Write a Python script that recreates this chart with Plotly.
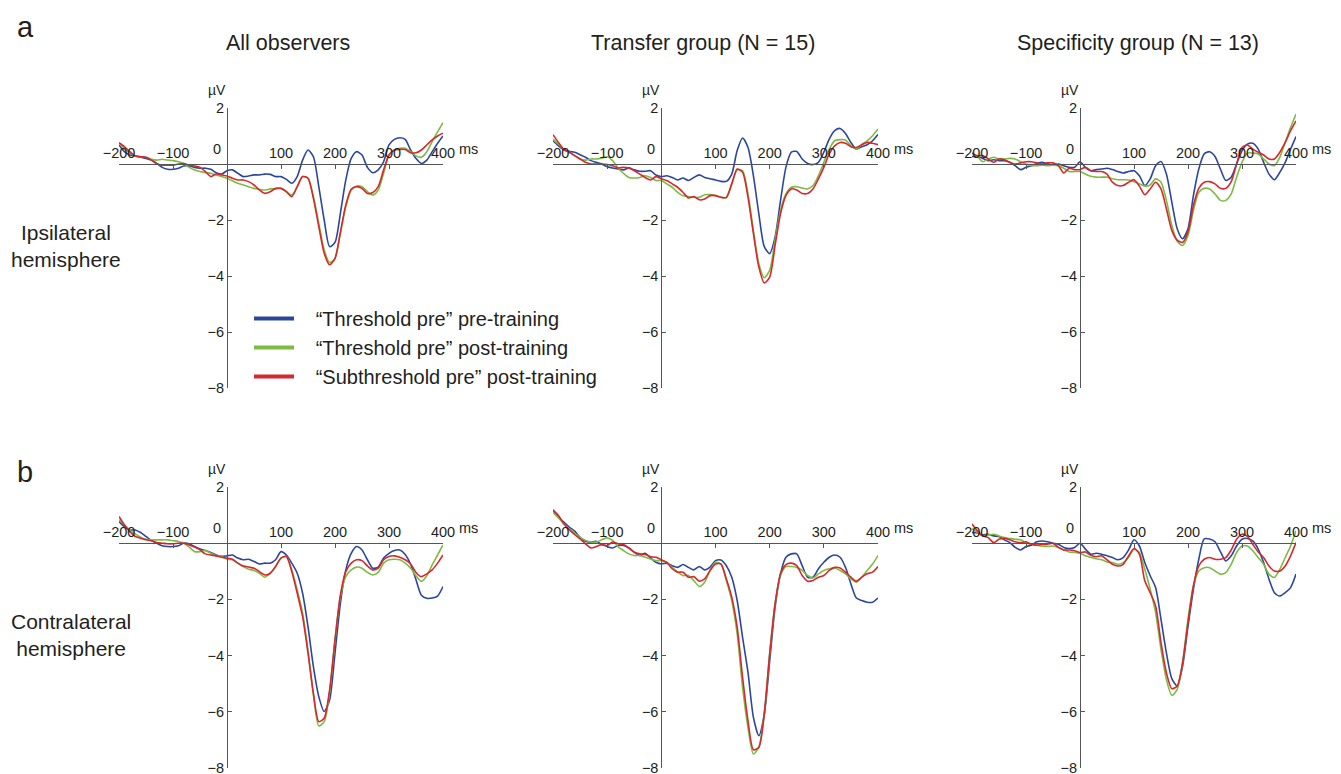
import plotly.graph_objects as go

# ---------------- data ----------------
time_ms = list(range(-200, 401, 10))

# Panel 1: All observers, ipsilateral
ipsi_all_pre = [0.68,0.44,0.32,0.29,0.24,0.2,0.14,0.02,-0.12,-0.19,
                -0.19,-0.15,-0.07,-0.07,-0.12,-0.15,-0.15,-0.19,-0.31,-0.36,
                -0.24,-0.21,-0.33,-0.45,-0.43,-0.39,-0.39,-0.36,-0.37,-0.45,
                -0.45,-0.55,-0.69,-0.45,0.14,0.5,0.26,-0.81,-2.0,-2.95,
                -2.8,-1.76,-0.57,0.2,0.44,0.32,-0.12,-0.31,-0.21,0.08,
                0.68,0.88,0.94,0.88,0.5,0.2,0.02,0.14,0.44,0.74,1.0]
ipsi_all_post = [0.74,0.56,0.4,0.29,0.26,0.24,0.17,0.14,0.17,0.14,
                 0.12,0.08,0.02,-0.12,-0.21,-0.27,-0.31,-0.33,-0.39,-0.45,
                 -0.51,-0.6,-0.69,-0.75,-0.81,-0.87,-0.9,-0.93,-0.89,-0.89,
                 -0.87,-0.99,-1.11,-0.81,-0.45,-0.51,-1.17,-2.12,-3.07,-3.52,
                 -3.37,-2.48,-1.52,-0.93,-0.79,-0.81,-0.99,-1.11,-0.93,-0.33,
                 0.32,0.5,0.56,0.56,0.44,0.29,0.24,0.44,0.8,1.15,1.48]
ipsi_all_sub = [0.76,0.62,0.44,0.29,0.26,0.24,0.14,0.0,-0.04,-0.04,
                -0.04,0.0,0.02,-0.04,-0.07,-0.12,-0.27,-0.45,-0.36,-0.39,
                -0.43,-0.51,-0.57,-0.57,-0.63,-0.75,-0.93,-1.05,-0.99,-0.87,
                -0.87,-0.99,-1.17,-0.81,-0.45,-0.51,-1.23,-2.24,-3.19,-3.6,
                -3.37,-2.43,-1.46,-0.9,-0.81,-0.87,-1.05,-1.02,-0.81,-0.21,
                0.32,0.5,0.52,0.52,0.4,0.4,0.5,0.68,0.86,1.0,1.1]

# Panel 2: Transfer group, ipsilateral
ipsi_tr_pre = [0.83,0.65,0.5,0.45,0.42,0.33,0.24,0.12,0.06,0.0,
               -0.1,-0.14,-0.18,-0.21,-0.14,-0.21,-0.26,-0.26,-0.24,-0.39,
               -0.45,-0.42,-0.48,-0.57,-0.5,-0.59,-0.48,-0.39,-0.48,-0.53,
               -0.57,-0.62,-0.62,-0.36,0.48,0.93,0.59,-0.42,-1.78,-2.95,
               -3.2,-2.61,-1.31,-0.12,0.42,0.45,0.18,0.02,-0.02,0.06,
               0.42,0.89,1.19,1.27,1.09,0.77,0.53,0.62,0.69,0.83,1.05]
ipsi_tr_post = [0.89,0.71,0.53,0.42,0.3,0.18,0.14,0.18,0.18,0.21,
                0.26,0.12,-0.14,-0.33,-0.48,-0.5,-0.48,-0.42,-0.48,-0.59,
                -0.59,-0.71,-0.83,-1.01,-1.13,-1.16,-1.19,-1.19,-1.1,-1.09,
                -1.13,-1.19,-1.21,-0.71,-0.21,-0.24,-1.07,-2.38,-3.56,-4.06,
                -3.8,-2.73,-1.66,-1.07,-0.83,-0.81,-0.86,-0.89,-0.77,-0.42,
                0.06,0.53,0.83,0.87,0.86,0.65,0.53,0.69,0.83,1.01,1.25]
ipsi_tr_sub = [1.05,0.77,0.53,0.42,0.3,0.18,0.06,0.0,0.0,0.0,
               -0.02,-0.06,-0.14,-0.12,-0.14,-0.24,-0.36,-0.48,-0.57,-0.45,
               -0.53,-0.59,-0.71,-0.83,-1.01,-1.21,-1.16,-1.28,-1.25,-1.13,
               -1.13,-1.19,-1.19,-0.71,-0.18,-0.3,-1.19,-2.49,-3.68,-4.25,
               -4.04,-2.91,-1.78,-1.13,-0.89,-0.93,-1.05,-1.05,-0.89,-0.53,
               -0.12,0.36,0.65,0.77,0.74,0.62,0.59,0.69,0.77,0.74,0.69]

# Panel 3: Specificity group, ipsilateral
ipsi_sp_pre = [0.27,0.27,0.2,0.12,0.15,0.12,0.12,0.06,-0.06,-0.2,
               -0.12,-0.06,0.02,0.06,0.0,-0.04,0.0,-0.06,-0.12,-0.12,
               0.08,-0.12,-0.24,-0.2,-0.18,-0.15,-0.2,-0.27,-0.32,-0.27,
               -0.24,-0.42,-0.77,-0.53,-0.06,0.09,-0.36,-1.36,-2.31,-2.67,
               -2.31,-1.13,-0.18,0.36,0.44,0.27,-0.18,-0.59,-0.47,0.0,
               0.47,0.71,0.74,0.53,0.06,-0.36,-0.56,-0.3,0.06,0.53,0.98]
ipsi_sp_post = [0.39,0.27,0.08,0.18,0.24,0.18,0.18,0.2,0.18,0.08,
                0.0,-0.06,-0.06,-0.04,-0.06,-0.04,-0.06,-0.15,-0.27,-0.27,
                -0.27,-0.36,-0.44,-0.47,-0.47,-0.47,-0.53,-0.56,-0.56,-0.57,
                -0.63,-0.71,-0.79,-0.75,-0.53,-0.65,-1.3,-2.19,-2.76,-2.91,
                -2.55,-1.66,-1.01,-0.87,-0.89,-1.07,-1.3,-1.3,-1.07,-0.47,
                0.06,0.39,0.39,0.36,0.18,0.0,-0.06,0.24,0.77,1.3,1.78]
ipsi_sp_sub = [0.39,0.3,0.3,0.18,0.06,0.18,0.15,0.06,0.0,0.04,
               0.08,0.08,0.04,0.0,0.04,0.04,-0.06,-0.32,-0.15,-0.2,
               -0.2,-0.12,-0.24,-0.27,-0.27,-0.36,-0.65,-0.77,-0.77,-0.65,
               -0.56,-0.79,-1.1,-0.89,-0.65,-0.89,-1.6,-2.37,-2.72,-2.8,
               -2.43,-1.48,-0.87,-0.65,-0.63,-0.71,-0.87,-0.87,-0.63,0.0,
               0.59,0.68,0.53,0.42,0.32,0.18,0.18,0.42,0.77,1.19,1.54]

# Panel 4: All observers, contralateral
contra_all_pre = [0.77,0.59,0.47,0.47,0.38,0.24,0.09,0.0,-0.09,-0.12,
                  -0.12,-0.09,0.0,-0.02,-0.12,-0.21,-0.26,-0.33,-0.42,-0.47,
                  -0.45,-0.42,-0.53,-0.59,-0.57,-0.65,-0.74,-0.71,-0.71,-0.59,
                  -0.3,-0.42,-0.71,-1.07,-1.78,-2.97,-4.39,-5.46,-5.99,-5.58,
                  -3.91,-2.14,-0.95,-0.36,-0.12,-0.24,-0.59,-0.89,-0.85,-0.53,
                  -0.36,-0.26,-0.24,-0.4,-0.75,-1.3,-1.85,-1.96,-1.95,-1.88,-1.54]
contra_all_post = [0.83,0.65,0.47,0.33,0.21,0.14,0.12,0.12,0.12,0.12,
                   0.09,0.06,0.0,-0.14,-0.3,-0.3,-0.26,-0.36,-0.45,-0.47,
                   -0.57,-0.59,-0.71,-0.83,-0.93,-0.97,-1.07,-1.21,-1.07,-0.83,
                   -0.53,-0.47,-0.95,-1.66,-2.49,-3.8,-5.4,-6.5,-6.35,-5.3,
                   -3.44,-1.9,-1.19,-0.95,-0.85,-0.89,-1.04,-1.13,-1.04,-0.71,
                   -0.59,-0.57,-0.59,-0.71,-0.89,-1.16,-1.36,-1.16,-0.77,-0.42,-0.06]
contra_all_sub = [0.95,0.65,0.42,0.24,0.18,0.12,0.09,0.02,0.0,-0.02,
                  -0.02,0.0,0.0,-0.06,-0.14,-0.24,-0.38,-0.42,-0.45,-0.5,
                  -0.53,-0.57,-0.71,-0.81,-0.85,-0.89,-1.01,-1.13,-1.07,-0.83,
                  -0.53,-0.47,-1.01,-1.78,-2.61,-3.91,-5.34,-6.35,-6.23,-5.22,
                  -3.44,-1.84,-1.01,-0.71,-0.59,-0.62,-0.81,-0.95,-0.89,-0.59,
                  -0.47,-0.45,-0.5,-0.59,-0.74,-1.04,-1.19,-1.09,-0.95,-0.71,-0.42]

# Panel 5: Transfer group, contralateral
contra_tr_pre = [1.14,0.93,0.75,0.57,0.43,0.21,0.07,0.04,0.07,-0.05,
                 -0.12,-0.17,-0.08,-0.08,-0.17,-0.32,-0.44,-0.36,-0.52,-0.68,
                 -0.74,-0.71,-0.8,-0.86,-0.76,-0.86,-0.95,-0.83,-0.95,-0.85,
                 -0.62,-0.6,-0.8,-1.21,-2.04,-3.35,-4.6,-6.2,-6.85,-6.1,
                 -4.2,-2.28,-1.09,-0.5,-0.38,-0.38,-0.8,-1.21,-1.21,-0.91,
                 -0.68,-0.5,-0.42,-0.5,-0.86,-1.45,-1.95,-2.04,-2.1,-2.1,-1.95]
contra_tr_post = [1.1,0.9,0.69,0.51,0.36,0.21,0.1,0.04,0.04,0.12,
                  0.19,0.1,-0.12,-0.26,-0.38,-0.44,-0.44,-0.5,-0.56,-0.62,
                  -0.62,-0.68,-0.86,-1.03,-1.15,-1.15,-1.33,-1.54,-1.39,-0.97,
                  -0.68,-0.74,-1.33,-2.04,-3.23,-5.13,-6.56,-7.5,-7.25,-6.08,
                  -3.94,-2.16,-1.15,-0.83,-0.83,-0.86,-0.97,-1.15,-1.24,-1.09,
                  -0.97,-0.91,-0.88,-0.97,-1.09,-1.27,-1.39,-1.21,-0.97,-0.74,-0.44]
contra_tr_sub = [1.19,0.99,0.69,0.48,0.31,0.15,-0.02,-0.17,-0.12,-0.05,
                 -0.08,0.04,-0.02,-0.05,-0.17,-0.32,-0.38,-0.4,-0.48,-0.5,
                 -0.59,-0.68,-0.91,-1.03,-1.03,-1.21,-1.19,-1.35,-1.27,-0.97,
                 -0.74,-0.74,-1.27,-1.92,-2.99,-4.77,-6.32,-7.35,-7.27,-6.08,
                 -3.94,-2.16,-1.09,-0.76,-0.71,-0.8,-1.15,-1.35,-1.33,-1.21,
                 -1.15,-0.97,-0.86,-0.88,-1.03,-1.21,-1.35,-1.21,-1.09,-1.03,-0.83]

# Panel 6: Specificity group, contralateral
contra_sp_pre = [0.38,0.36,0.29,0.32,0.26,0.24,0.12,0.02,-0.15,-0.24,
                 -0.12,-0.07,0.05,0.08,0.05,0.0,-0.04,-0.15,-0.19,-0.15,
                 0.0,-0.21,-0.39,-0.36,-0.39,-0.45,-0.51,-0.59,-0.51,-0.24,
                 0.12,-0.1,-0.69,-1.16,-1.58,-2.71,-3.9,-4.82,-5.08,-4.37,
                 -2.95,-1.64,-0.57,0.15,0.15,0.05,-0.3,-0.63,-0.45,-0.1,
                 0.14,0.17,0.08,-0.21,-0.69,-1.28,-1.76,-1.88,-1.76,-1.58,-1.1]
contra_sp_post = [0.52,0.38,0.26,0.29,0.32,0.26,0.2,0.17,0.14,0.12,
                  0.02,-0.04,-0.07,-0.1,-0.12,-0.1,-0.15,-0.24,-0.31,-0.33,
                  -0.36,-0.45,-0.51,-0.55,-0.59,-0.67,-0.69,-0.75,-0.69,-0.51,
                  -0.21,-0.33,-0.93,-1.64,-2.47,-3.78,-4.85,-5.42,-5.2,-4.25,
                  -2.71,-1.52,-0.99,-0.87,-0.87,-0.99,-1.1,-1.05,-0.75,-0.33,
                  -0.1,-0.1,-0.27,-0.51,-0.75,-1.1,-1.22,-0.93,-0.51,-0.1,0.44]
contra_sp_sub = [0.68,0.44,0.26,0.2,0.02,0.14,0.17,0.12,0.05,0.02,
                 0.05,-0.04,-0.07,-0.04,-0.04,0.0,-0.15,-0.24,-0.24,-0.27,
                 -0.33,-0.31,-0.43,-0.48,-0.45,-0.59,-0.75,-0.81,-0.75,-0.45,
                 -0.19,-0.39,-1.34,-1.76,-2.23,-3.54,-4.61,-5.18,-5.08,-4.25,
                 -2.83,-1.52,-0.81,-0.57,-0.51,-0.57,-0.57,-0.51,-0.24,0.14,
                 0.32,0.24,-0.04,-0.31,-0.51,-0.81,-0.99,-0.99,-0.81,-0.45,0.02]

series_names = ["\u201cThreshold pre\u201d pre-training",
                "\u201cThreshold pre\u201d post-training",
                "\u201cSubthreshold pre\u201d post-training"]
col_titles = ["All observers", "Transfer group (N = 15)", "Specificity group (N = 13)"]
row_titles = ["Ipsilateral<br>hemisphere", "Contralateral<br>hemisphere"]
row_letters = ["a", "b"]
x_tickvals = [-200, -100, 0, 100, 200, 300, 400]
x_ticktext = ["\u2212200", "\u2212100", "", "100", "200", "300", "400"]
y_tickvals = [2, -2, -4, -6, -8]
y_ticktext = ["2", "\u22122", "\u22124", "\u22126", "\u22128"]

panels = [
    [ipsi_all_pre, ipsi_all_post, ipsi_all_sub],
    [ipsi_tr_pre, ipsi_tr_post, ipsi_tr_sub],
    [ipsi_sp_pre, ipsi_sp_post, ipsi_sp_sub],
    [contra_all_pre, contra_all_post, contra_all_sub],
    [contra_tr_pre, contra_tr_post, contra_tr_sub],
    [contra_sp_pre, contra_sp_post, contra_sp_sub],
]

# ---------------- style / layout ----------------
W, H = 1341, 774
PAGE_OFFSET = 8   # default body margin of the page holding the figure
FONT = "Liberation Sans, Arial, Helvetica, sans-serif"
colors = ["#2b479d", "#7dbb42", "#d7282e"]
axis_color = "#555555"
text_color = "#231f20"
X_RANGE = [-200, 400]
Y_RANGE = [-8, 2]
TICK_SIZE = 14.5

# panel boxes, in screen pixels
col_px = [(119, 443), (553, 878), (972, 1296)]
row_px = [(108, 388), (487, 768)]

def px_x(p):
    return (p - PAGE_OFFSET) / W

def px_y(p):
    return 1 - (p - PAGE_OFFSET) / H

fig = go.Figure()
layout = dict(
    width=W, height=H,
    margin=dict(l=0, r=0, t=0, b=0, pad=0, autoexpand=False),
    paper_bgcolor="white", plot_bgcolor="rgba(0,0,0,0)",
    font=dict(family=FONT, color=text_color, size=14),
    showlegend=True,
)
annotations = []

for k, series in enumerate(panels):
    r, c = divmod(k, 3)
    n = k + 1
    xa = "x" if n == 1 else f"x{n}"
    ya = "y" if n == 1 else f"y{n}"
    xd = [px_x(col_px[c][0]), px_x(col_px[c][1])]
    yd = [px_y(row_px[r][1]), px_y(row_px[r][0])]
    # where the data zero lines sit, in paper units
    x0_paper = xd[0] + (0 - X_RANGE[0]) / (X_RANGE[1] - X_RANGE[0]) * (xd[1] - xd[0])
    y0_paper = yd[0] + (0 - Y_RANGE[0]) / (Y_RANGE[1] - Y_RANGE[0]) * (yd[1] - yd[0])

    layout["xaxis" if n == 1 else f"xaxis{n}"] = dict(
        domain=xd, range=X_RANGE, anchor="free", position=y0_paper, side="top",
        showline=True, linecolor=axis_color, linewidth=1,
        ticks="inside", ticklen=4, tickcolor=axis_color,
        tickvals=x_tickvals, ticktext=x_ticktext,
        tickfont=dict(size=TICK_SIZE, color=text_color, family=FONT),
        showgrid=False, zeroline=False, fixedrange=True, automargin=False,
    )
    layout["yaxis" if n == 1 else f"yaxis{n}"] = dict(
        domain=yd, range=Y_RANGE, anchor="free", position=x0_paper, side="left",
        showline=True, linecolor=axis_color, linewidth=1,
        ticks="inside", ticklen=4, tickcolor=axis_color,
        tickvals=y_tickvals, ticktext=y_ticktext,
        tickfont=dict(size=TICK_SIZE, color=text_color, family=FONT),
        showgrid=False, zeroline=False, fixedrange=True, automargin=False,
    )
    for s, vals in enumerate(series):
        fig.add_trace(go.Scatter(
            x=time_ms, y=vals, mode="lines", xaxis=xa, yaxis=ya,
            line=dict(color=colors[s], width=1.6, shape="spline", smoothing=0.7),
            showlegend=False, hoverinfo="skip",
        ))
    # axis decorations
    annotations.append(dict(text="\u00b5V", x=0, y=Y_RANGE[1], xref=xa, yref=ya,
                            xanchor="right", yanchor="middle", xshift=1, yshift=18,
                            showarrow=False, font=dict(size=14, color=text_color)))
    annotations.append(dict(text="0", x=0, y=0, xref=xa, yref=ya,
                            xanchor="center", yanchor="middle", xshift=-10, yshift=15,
                            showarrow=False, font=dict(size=TICK_SIZE, color=text_color)))
    annotations.append(dict(text="ms", x=X_RANGE[1], y=0, xref=xa, yref=ya,
                            xanchor="left", yanchor="middle", xshift=14, yshift=15,
                            showarrow=False, font=dict(size=TICK_SIZE, color=text_color)))

# legend entries (thick swatches)
for s in range(3):
    fig.add_trace(go.Scatter(
        x=[None], y=[None], mode="lines", name="\u00a0\u00a0\u00a0" + series_names[s],
        line=dict(color=colors[s], width=4), legendgroup=f"g{s}",
        showlegend=True, hoverinfo="skip",
    ))

layout["legend"] = dict(
    x=px_x(249), y=px_y(299), xanchor="left", yanchor="top",
    font=dict(size=20, color=text_color, family=FONT),
    bgcolor="rgba(0,0,0,0)", traceorder="grouped", tracegroupgap=0,
    itemwidth=40,
)

# titles
col_title_x = [288, 703, 1138]
for c, t in enumerate(col_titles):
    annotations.append(dict(text=t, x=px_x(col_title_x[c]), y=px_y(43), xref="paper", yref="paper",
                            xanchor="center", yanchor="middle", showarrow=False,
                            font=dict(size=21.5, color=text_color)))
row_title_x = [66, 71]
row_title_y = [246, 635]
for r, t in enumerate(row_titles):
    annotations.append(dict(text=t, x=px_x(row_title_x[r]), y=px_y(row_title_y[r]),
                            xref="paper", yref="paper",
                            xanchor="center", yanchor="middle", showarrow=False, align="center",
                            font=dict(size=21, color=text_color)))
letter_y = [27, 472]
for r, t in enumerate(row_letters):
    annotations.append(dict(text=t, x=px_x(15), y=px_y(letter_y[r]), xref="paper", yref="paper",
                            xanchor="left", yanchor="middle", showarrow=False,
                            font=dict(size=29, color=text_color)))

layout["annotations"] = annotations
fig.update_layout(**layout)
fig.write_html("out.html")
